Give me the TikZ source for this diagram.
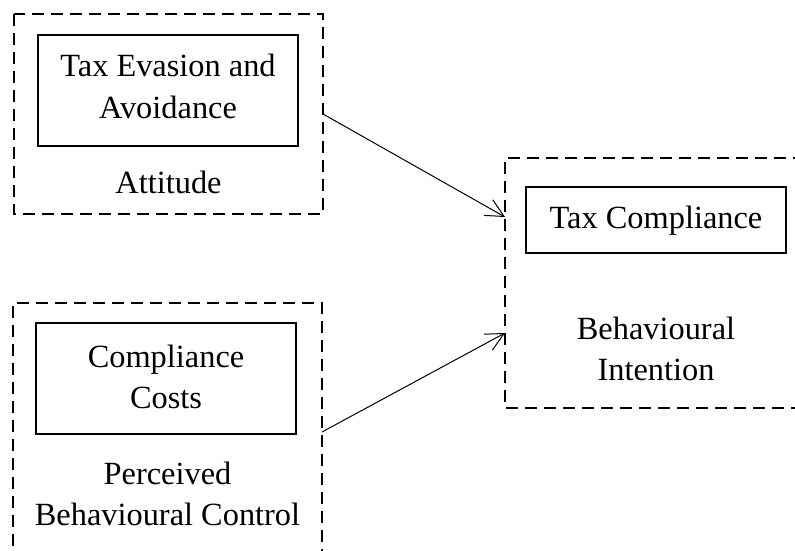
\documentclass[tikz,border=0pt]{standalone}
\usepackage{fontspec}
\setmainfont{Liberation Serif}
\usetikzlibrary{arrows.meta}
\begin{document}
\begin{tikzpicture}[x=1bp,y=-1bp,
  every node/.style={inner sep=0pt, outer sep=0pt},
  construct/.style={draw, line width=1.7bp, rectangle, minimum width=260bp},
  area/.style={rectangle, draw=none},
  groupframe/.style={line width=1.8bp, dash pattern=on 12bp off 7bp},
  txt/.style={font=\fontsize{32.5}{42}\selectfont, align=flush center, text width=300bp, anchor=base},
  link/.style={line width=1bp, -{Straight Barb[length=18bp,width=18bp]}}]
\useasboundingbox (0,0) rectangle (795,551);

% Attitude
\node[area, minimum width=309bp, minimum height=200bp] (att) at (168.5,114) {};
\draw[groupframe] (att.north west) rectangle (att.south east);
\node[construct, minimum height=111bp] (evasion) at (168,90.5) {};
\node[txt] (evasiontxt) at (168,77) {Tax Evasion and\\Avoidance};
\node[txt] (atttxt) at (168.5,194) {Attitude};

% Perceived behavioural control (frame runs off the bottom)
\node[area, minimum width=309bp, minimum height=262bp] (pbc) at (167.5,434) {};
\draw[groupframe] (pbc.south west) -- (pbc.north west) -- (pbc.north east) -- (pbc.south east);
\node[construct, minimum height=111bp] (costs) at (166,378.5) {};
\node[txt] (coststxt) at (166,367) {Compliance\\Costs};
\node[txt] (pbctxt) at (167.5,484) {Perceived\\Behavioural Control};

% Behavioural intention (frame runs off the right)
\node[area, minimum width=300bp, minimum height=250bp] (bi) at (655,283) {};
\draw[groupframe] (bi.north east) -- (bi.north west) -- (bi.south west) -- (bi.south east);
\node[construct, minimum height=66bp] (compliance) at (656,220) {};
\node[txt] (compliancetxt) at (656,229) {Tax Compliance};
\node[txt] (bitxt) at (656,339) {Behavioural\\Intention};

% Paths
\coordinate (in1) at (505,217);
\coordinate (in2) at (505,333);
\coordinate (out2) at (322,432);
\draw[link] (att.east) -- (in1);
\draw[link] (out2) -- (in2);
\end{tikzpicture}
\end{document}
